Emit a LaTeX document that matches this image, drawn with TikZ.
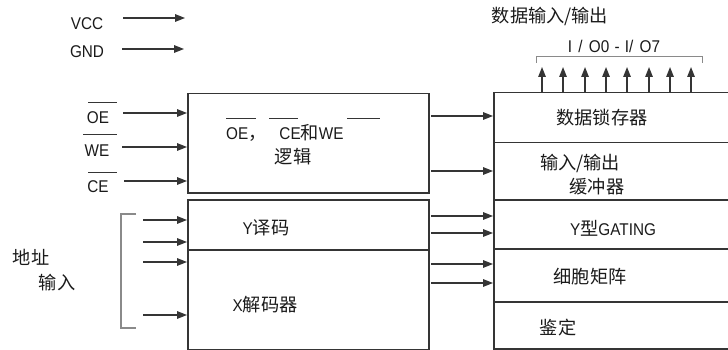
\documentclass[tikz,border=0pt]{standalone}
\usepackage{fontspec}
\setmainfont[FakeStretch=0.9]{Liberation Sans}
\newfontfamily\cjk[Scale=1.07]{Noto Sans CJK SC}
\usetikzlibrary{arrows.meta}
\definecolor{ln}{HTML}{353535}
\definecolor{tx}{HTML}{1A1A1A}
\definecolor{br}{HTML}{8A8A8A}
\begin{document}
\begin{tikzpicture}[x=1pt,y=-1pt,
  box/.style={draw=ln,line width=1.5pt,inner sep=0pt,anchor=north west},
  arr/.style={draw=ln,line width=1.4pt,-{Triangle[length=10pt,width=7.5pt]}},
  lbl/.style={text=tx,inner sep=0pt,font=\fontsize{17}{20}\selectfont},
  bar/.style={draw=ln,line width=1pt},
  brk/.style={draw=br,line width=1.2pt}]
\useasboundingbox (0,0) rectangle (728,350);
\clip (0,0) rectangle (728,350);
% left blocks
\node[box,minimum width=241pt,minimum height=99pt] (logic) at (187,93) {};
\node[box,minimum width=241pt,minimum height=50pt] (ydec) at (187,199) {};
\node[box,minimum width=241pt,minimum height=100pt] (xdec) at (187,249) {};
% right blocks
\node[box,minimum width=260pt,minimum height=50pt] (latch) at (493,92) {};
\node[box,minimum width=260pt,minimum height=57pt] (buf) at (493,142) {};
\node[box,minimum width=260pt,minimum height=49pt] (ygate) at (493,199) {};
\node[box,minimum width=260pt,minimum height=53pt] (cells) at (493,248) {};
\node[box,minimum width=260pt,minimum height=47pt] (ident) at (493,301) {};
% labels left
\node[lbl] (tvcc) at (87,24) {VCC};
\node[lbl] (tgnd) at (87,52) {GND};
\node[lbl] (toe) at (98,118) {OE};
\node[lbl] (twe) at (97,151) {WE};
\node[lbl] (tce) at (98,187) {CE};
\draw[bar] (88,103) -- (117,103);
\draw[bar] (83,135) -- (117,135);
\draw[bar] (88,172) -- (117,172);
\node[lbl] (tdz) at (31,257) {\cjk 地址};
\node[lbl] (tsr) at (57,283) {\cjk 输入};
% power arrows
\coordinate (s1) at (123,18); \coordinate (e1) at (185,18);
\coordinate (s2) at (122,49); \coordinate (e2) at (184,49);
\draw[arr] (s1) -- (e1);
\draw[arr] (s2) -- (e2);
% control arrows
\coordinate (s3) at (123,113);
\coordinate (s4) at (122,147);
\coordinate (s5) at (124,181);
\draw[arr] (s3) -- (logic.west |- s3);
\draw[arr] (s4) -- (logic.west |- s4);
\draw[arr] (s5) -- (logic.west |- s5);
% address arrows
\coordinate (a1) at (143,220);
\coordinate (a2) at (143,242);
\coordinate (a3) at (143,262);
\coordinate (a4) at (143,315);
\draw[arr] (a1) -- (ydec.west |- a1);
\draw[arr] (a2) -- (ydec.west |- a2);
\draw[arr] (a3) -- (xdec.west |- a3);
\draw[arr] (a4) -- (xdec.west |- a4);
\draw[brk] (136,214) -- (121,214) -- (121,328) -- (136,328);
% middle arrows
\coordinate (m1) at (431,116);
\coordinate (m2) at (431,171);
\coordinate (m3) at (431,216);
\coordinate (m4) at (431,233);
\coordinate (m5) at (431,264);
\coordinate (m6) at (431,283);
\draw[arr] (m1) -- (latch.west |- m1);
\draw[arr] (m2) -- (buf.west |- m2);
\draw[arr] (m3) -- (ygate.west |- m3);
\draw[arr] (m4) -- (ygate.west |- m4);
\draw[arr] (m5) -- (cells.west |- m5);
\draw[arr] (m6) -- (cells.west |- m6);
% data out arrows
\foreach \x [count=\i] in {542,563,585,606,627,649,670,691} {
  \coordinate (u\i) at (\x,67);
  \draw[arr] (latch.north -| u\i) -- (u\i);
}
\draw[brk,line width=1pt] (536,63) -- (536,57) -- (702,57) -- (702,63);
\node[lbl] (tdio) at (550,16) {\cjk 数据输入/输出};
\node[lbl] (tio) at (614,46) {I\hspace{2pt} /\hspace{2pt} O0\hspace{1pt} -\hspace{1pt} I/\hspace{2pt} O7};
% logic text
\node[lbl,anchor=west] (tlogic) at (226,133) {OE{\cjk ，}\hspace{13pt}CE{\cjk 和}WE};
\draw[bar] (226,119) -- (256,119);
\draw[bar] (269,119) -- (298,119);
\draw[bar] (347,119) -- (380,119);
\node[lbl] (tlj) at (293,157) {\cjk 逻辑};
\node[lbl] (tyd) at (266,228) {Y{\cjk 译码}};
\node[lbl] (txd) at (265,305) {X{\cjk 解码器}};
% right texts
\node[lbl] (tlatch) at (602,118) {\cjk 数据锁存器};
\node[lbl] (tbuf1) at (580,163) {\cjk 输入/输出};
\node[lbl] (tbuf2) at (597,187) {\cjk 缓冲器};
\node[lbl] (tyg) at (613,228) {Y{\cjk 型}GATING};
\node[lbl] (tcell) at (590,277) {\cjk 细胞矩阵};
\node[lbl] (tid) at (558,328) {\cjk 鉴定};
\end{tikzpicture}
\end{document}
